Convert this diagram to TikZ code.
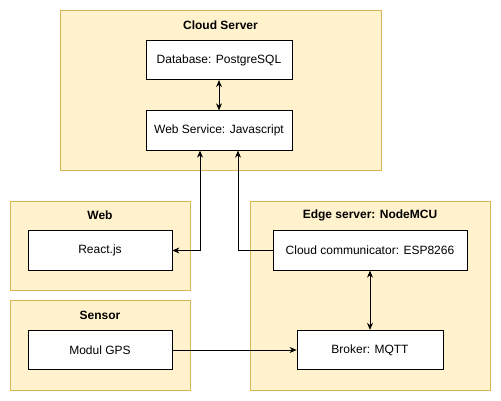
\documentclass[tikz,border=0pt]{standalone}
\usepackage{fontspec}
\setmainfont{Liberation Sans}
\usetikzlibrary{arrows.meta}
\definecolor{groupfill}{HTML}{FFF2CC}
\definecolor{groupline}{HTML}{D6B656}
\begin{document}
\begin{tikzpicture}[x=1pt,y=-1pt,font=\fontsize{12}{14}\selectfont,
   group/.style={draw=groupline,fill=groupfill,line width=0.8pt,anchor=north west,inner sep=0pt},
   part/.style={draw,fill=white,line width=0.8pt,minimum height=39.5pt,inner sep=0pt},
   title/.style={font=\fontsize{12}{14}\selectfont\bfseries},
   link/.style={line width=0.8pt,-{Stealth[length=7pt,width=6pt]}},
   both/.style={link,{Stealth[length=7pt,width=6pt]}-{Stealth[length=7pt,width=6pt]}}]
\useasboundingbox (0,0) rectangle (501,401);
% containers
\node[group,minimum width=321pt,minimum height=160pt] (cloud) at (60,10) {};
\node[group,minimum width=180pt,minimum height=89pt] (web) at (10,201) {};
\node[group,minimum width=180pt,minimum height=90pt] (sensor) at (10,300) {};
\node[group,minimum width=240pt,minimum height=189pt] (edge) at (250,201) {};
\node[title] (cloudtitle) at (220.5,25) {Cloud Server};
\node[title] (webtitle) at (100,215) {Web};
\node[title] (sensortitle) at (100,315) {Sensor};
\node[title] (edgetitle) at (370,215) {Edge server: NodeMCU};
% parts
\node[part,minimum width=146pt] (db) at (219,60) {Database: PostgreSQL};
\node[part,minimum width=146pt] (ws) at (219,130.5) {Web Service: Javascript};
\node[part,minimum width=144pt] (react) at (100,250.5) {React.js};
\node[part,minimum width=144pt] (gps) at (100,350) {Modul GPS};
\node[part,minimum width=194pt] (comm) at (370,250.5) {Cloud communicator: ESP8266};
\node[part,minimum width=146pt] (broker) at (370,350) {Broker: MQTT};
% links
\draw[both] (db.south) -- (ws.north);
\draw[both] (react.east) -| ([xshift=-19pt]ws.south);
\draw[link] (comm.west) -| ([xshift=19pt]ws.south);
\draw[both] (comm.south) -- (broker.north);
\draw[link] (gps.east) -- (broker.west);
\end{tikzpicture}
\end{document}
